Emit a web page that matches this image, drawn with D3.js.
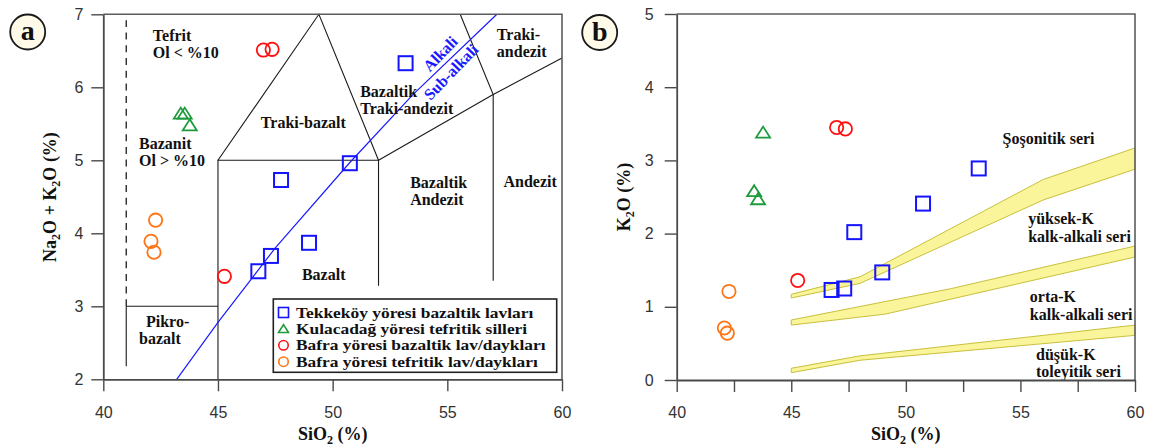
<!DOCTYPE html>
<html>
<head>
<meta charset="utf-8">
<script src="https://cdn.jsdelivr.net/npm/d3@7"></script>
<style>
  body { margin: 0; background: #fff; }
  svg { display: block; }
  .tick text { font-family: "Liberation Sans", Arial, sans-serif; font-size: 16px; fill: #333; }
  .lbl { font-family: "Liberation Serif", "Times New Roman", serif; font-weight: bold; font-size: 16px; fill: #111; }
  .title { font-family: "Liberation Serif", "Times New Roman", serif; font-weight: bold; font-size: 18px; fill: #111; }
</style>
</head>
<body>
<svg id="chart" width="1151" height="448"></svg>
<script>
// ---- sample groups ----
const groupNames = [
  "Tekkeköy yöresi bazaltik lavları",
  "Kulacadağ yöresi tefritik silleri",
  "Bafra yöresi bazaltik lav/daykları",
  "Bafra yöresi tefritik lav/daykları"
];

// SiO2 (%), Na2O+K2O (%), K2O (%) per group
const tekkekoySiO2 = [53.18, 47.75, 50.75, 48.97, 47.31, 46.76];
const tekkekoyAlk  = [6.33, 4.73, 4.96, 3.87, 3.69, 3.48];
const tekkekoyK2O  = [2.89, 2.02, 2.41, 1.47, 1.25, 1.23];

const kulacadagSiO2 = [43.38, 43.55, 43.77];
const kulacadagAlk  = [5.64, 5.64, 5.48];
const kulacadagK2O  = [2.58, 2.47, 3.38];

const bafraBazSiO2 = [46.98, 47.36, 45.28];
const bafraBazAlk  = [6.51, 6.52, 3.41];
const bafraBazK2O  = [3.45, 3.43, 1.36];

const bafraTefSiO2 = [42.28, 42.08, 42.21];
const bafraTefAlk  = [4.18, 3.89, 3.74];
const bafraTefK2O  = [1.21, 0.71, 0.64];

// ---- axis ticks ----
const silicaTicks = [40, 45, 50, 55, 60];
const silicaMinorTicks = [40, 42.5, 45, 47.5, 50, 52.5, 55, 57.5, 60];
const alkTicks = [2, 3, 4, 5, 6, 7];
const k2oTicks = [0, 1, 2, 3, 4, 5];

// ---- TAS field boundaries (SiO2, Na2O+K2O) ----
const tasSolid = [
  [[41, 3], [45, 3]],
  [[41, 2.18], [41, 3]],
  [[45, 2], [45, 5], [52, 5], [52, 3.28]],
  [[45, 5], [49.4, 7], [52, 5]],
  [[52, 5], [57, 5.9], [60, 6.4]],
  [[57, 3.35], [57, 5.9], [55.56, 7]]
];
const tasDashed = [[41, 3], [41, 6.92]];
const alkaliDivide = [[43.2, 2], [45.0, 2.78], [47.5, 3.8], [50.75, 4.97], [53.5, 5.9], [57.16, 7]];

const tasFieldNames = [
  ["Tefrit", "Ol < %10"], ["Bazanit", "Ol > %10"], ["Traki-bazalt"],
  ["Bazaltik", "Traki-andezit"], ["Traki-", "andezit"], ["Bazaltik", "Andezit"],
  ["Andezit"], ["Bazalt"], ["Pikro-", "bazalt"]
];

// ---- K2O series boundary bands (upper edge, lower edge) ----
const shoUpper  = [[45, 1.17], [48, 1.41], [56, 2.74], [60, 3.17]];
const shoLower  = [[45, 1.12], [48, 1.32], [56, 2.46], [60, 2.88]];
const highUpper = [[45, 0.82], [52, 1.25], [60, 1.83]];
const highLower = [[45, 0.75], [49.1, 0.90], [60, 1.68]];
const lowUpper  = [[45, 0.16], [48, 0.33], [60, 0.75]];
const lowLower  = [[45, 0.10], [48, 0.27], [60, 0.61]];

const seriesNames = [
  ["Şoşonitik seri"], ["yüksek-K", "kalk-alkali seri"],
  ["orta-K", "kalk-alkali seri"], ["düşük-K", "toleyitik seri"]
];

// ---- drawing ----
const svg = d3.select("#chart");
svg.append("rect").attr("width", 1151).attr("height", 448).attr("fill", "#fff");

const groupStyle = [
  { color: "#1414ff", shape: "square" },
  { color: "#1d9a3c", shape: "triangle" },
  { color: "#ff1010", shape: "circle" },
  { color: "#ff7415", shape: "circle" }
];

function drawMarker(g, shape, color, cx, cy, s) {
  if (shape === "square") {
    g.append("rect").attr("x", cx - s).attr("y", cy - s).attr("width", 2 * s).attr("height", 2 * s)
      .attr("fill", "none").attr("stroke", color).attr("stroke-width", s > 6 ? 2 : 1.6);
  } else if (shape === "circle") {
    g.append("circle").attr("cx", cx).attr("cy", cy).attr("r", s * 0.95)
      .attr("fill", "none").attr("stroke", color).attr("stroke-width", s > 6 ? 1.8 : 1.6);
  } else {
    const h = s * 0.85;
    g.append("path").attr("d", `M${cx},${cy - h}L${cx + s},${cy + h * 0.85}L${cx - s},${cy + h * 0.85}Z`)
      .attr("fill", "none").attr("stroke", color).attr("stroke-width", s > 6 ? 1.8 : 1.6);
  }
}

function frame(g, x, y, yTicks, yPad, minor) {
  const [x0, x1] = x.range();
  const [y0, y1] = y.range();
  // top and right border
  g.append("path").attr("d", `M${x0},${y1}H${x1}V${y0}`)
    .attr("fill", "none").attr("stroke", "#5c5c5c").attr("stroke-width", 1.6);

  const xa = g.append("g").attr("transform", `translate(0,${y0})`)
    .call(d3.axisBottom(x).tickValues(minor || silicaTicks).tickSize(12).tickSizeOuter(0).tickPadding(15)
      .tickFormat(d => silicaTicks.includes(d) ? d3.format("d")(d) : ""));
  const ya = g.append("g").attr("transform", `translate(${x0},0)`)
    .call(d3.axisLeft(y).tickValues(yTicks).tickSize(12).tickSizeOuter(0).tickPadding(yPad)
      .tickFormat(d3.format("d")));
  [xa, ya].forEach(a => {
    a.select(".domain").attr("stroke", "#4a4a4a").attr("stroke-width", 1.8);
    a.selectAll(".tick line").attr("stroke", "#4a4a4a").attr("stroke-width", 1.4);
  });
}

function title(g, parts, x, y, rotate) {
  const t = g.append("text").attr("class", "title").attr("text-anchor", "middle")
    .attr("transform", `translate(${x},${y})` + (rotate ? " rotate(-90)" : ""));
  let shifted = false;
  parts.forEach(p => {
    const isSub = p === "2";
    const sp = t.append("tspan").text(p);
    if (isSub) { sp.attr("font-size", 12).attr("dy", 4); shifted = true; }
    else if (shifted) { sp.attr("dy", -4); shifted = false; }
  });
}

function panelBadge(cx, cy, letter) {
  svg.append("circle").attr("cx", cx).attr("cy", cy).attr("r", 17.5)
    .attr("fill", "#fffbe8").attr("stroke", "#1a1a1a").attr("stroke-width", 1.8);
  svg.append("text").attr("x", cx).attr("y", cy + 8).attr("text-anchor", "middle")
    .attr("font-family", "Liberation Serif, serif").attr("font-weight", "bold")
    .attr("font-size", 28).attr("fill", "#111").text(letter);
}

function multiLine(g, lines, x, y, gap) {
  return lines.map((s, i) => g.append("text").attr("class", "lbl").attr("x", x).attr("y", y + i * gap).text(s));
}

// ======== panel a : TAS ========
const xa = d3.scaleLinear().domain([40, 60]).range([103.3, 562]);
const ya = d3.scaleLinear().domain([2, 7]).range([379.3, 14.3]);
const ga = svg.append("g");

const lineA = d3.line().x(d => xa(d[0])).y(d => ya(d[1]));
tasSolid.forEach(seg => ga.append("path").attr("d", lineA(seg))
  .attr("fill", "none").attr("stroke", "#1a1a1a").attr("stroke-width", 1.1));
ga.append("path").attr("d", lineA(tasDashed)).attr("fill", "none")
  .attr("stroke", "#1a1a1a").attr("stroke-width", 1.3).attr("stroke-dasharray", "7,5.7");
ga.append("path").attr("d", lineA(alkaliDivide)).attr("fill", "none")
  .attr("stroke", "#1a1aff").attr("stroke-width", 1.2);

// field names, anchored at text start / baseline
const tasAnchors = [
  [42.16, 6.63], [41.56, 5.16], [46.87, 5.44], [51.2, 5.87], [57.16, 6.65],
  [53.38, 4.62], [57.45, 4.64], [48.66, 3.36], [41.86, 2.72]
];
tasFieldNames.forEach((lines, i) => {
  const texts = multiLine(ga, lines, xa(tasAnchors[i][0]), ya(tasAnchors[i][1]), 17);
  if (lines[1] === "bazalt") texts[1].attr("x", xa(41.56));
});

// Alkali / Sub-alkali captions along the divide
[["Alkali", 54.69, 6.46], ["Sub-alkali", 55.16, 6.21]].forEach(([s, sx, sy]) => {
  ga.append("text").attr("class", "lbl").style("fill", "#1a1aff")
    .attr("text-anchor", "middle").attr("dominant-baseline", "central")
    .attr("transform", `translate(${xa(sx)},${ya(sy)}) rotate(-46)`).text(s);
});

// legend (wide bold face, tight rows)
const lg = ga.append("g");
lg.append("rect").attr("x", 273.3).attr("y", 299).attr("width", 283.4).attr("height", 73.3)
  .attr("fill", "#fff").attr("stroke", "#222").attr("stroke-width", 1.6);
groupNames.forEach((name, i) => {
  const cy = 312.5 + i * 16.4;
  drawMarker(lg, groupStyle[i].shape, groupStyle[i].color, 283.5, cy, 5);
  const t = lg.append("text").attr("class", "lbl").style("font-size", "14.5px")
    .attr("x", 296).attr("y", cy + 5).text(name);
  const w = t.node().getComputedTextLength();
  t.attr("textLength", w * 1.2).attr("lengthAdjust", "spacingAndGlyphs");
});

frame(ga, xa, ya, alkTicks, 8, null);

const tasSets = [
  [tekkekoySiO2, tekkekoyAlk], [kulacadagSiO2, kulacadagAlk],
  [bafraBazSiO2, bafraBazAlk], [bafraTefSiO2, bafraTefAlk]
];
tasSets.forEach(([xs, ys], i) => xs.forEach((v, j) =>
  drawMarker(ga, groupStyle[i].shape, groupStyle[i].color, xa(v), ya(ys[j]), 7)));

title(ga, ["SiO", "2", " (%)"], (103.3 + 562) / 2, 440, false);
title(ga, ["Na", "2", "O + K", "2", "O (%)"], 56, 197, true);
panelBadge(27.7, 32, "a");

// ======== panel b : K2O vs SiO2 ========
const xb = d3.scaleLinear().domain([40, 60]).range([676.7, 1135]);
const yb = d3.scaleLinear().domain([0, 5]).range([380, 14]);
const gb = svg.append("g");
const lineB = d3.line().x(d => xb(d[0])).y(d => yb(d[1]));

[[shoUpper, shoLower], [highUpper, highLower], [lowUpper, lowLower]].forEach(([up, lo]) => {
  gb.append("path").attr("d", lineB(up.concat(lo.slice().reverse())) + "Z")
    .attr("fill", "#faf49a").attr("stroke", "#c8c03c").attr("stroke-width", 1);
});

const seriesAnchors = [[54.22, 3.22], [55.34, 2.13], [55.41, 1.06], [55.68, 0.28]];
seriesNames.forEach((lines, i) => multiLine(gb, lines, xb(seriesAnchors[i][0]), yb(seriesAnchors[i][1]), 17.5));

frame(gb, xb, yb, k2oTicks, 11, silicaMinorTicks);

const kSets = [
  [tekkekoySiO2, tekkekoyK2O], [kulacadagSiO2, kulacadagK2O],
  [bafraBazSiO2, bafraBazK2O], [bafraTefSiO2, bafraTefK2O]
];
kSets.forEach(([xs, ys], i) => xs.forEach((v, j) =>
  drawMarker(gb, groupStyle[i].shape, groupStyle[i].color, xb(v), yb(ys[j]), 7)));

title(gb, ["SiO", "2", " (%)"], (676.7 + 1135) / 2, 440, false);
title(gb, ["K", "2", "O (%)"], 630, 197, true);
panelBadge(599.7, 32.5, "b");
</script>
</body>
</html>
